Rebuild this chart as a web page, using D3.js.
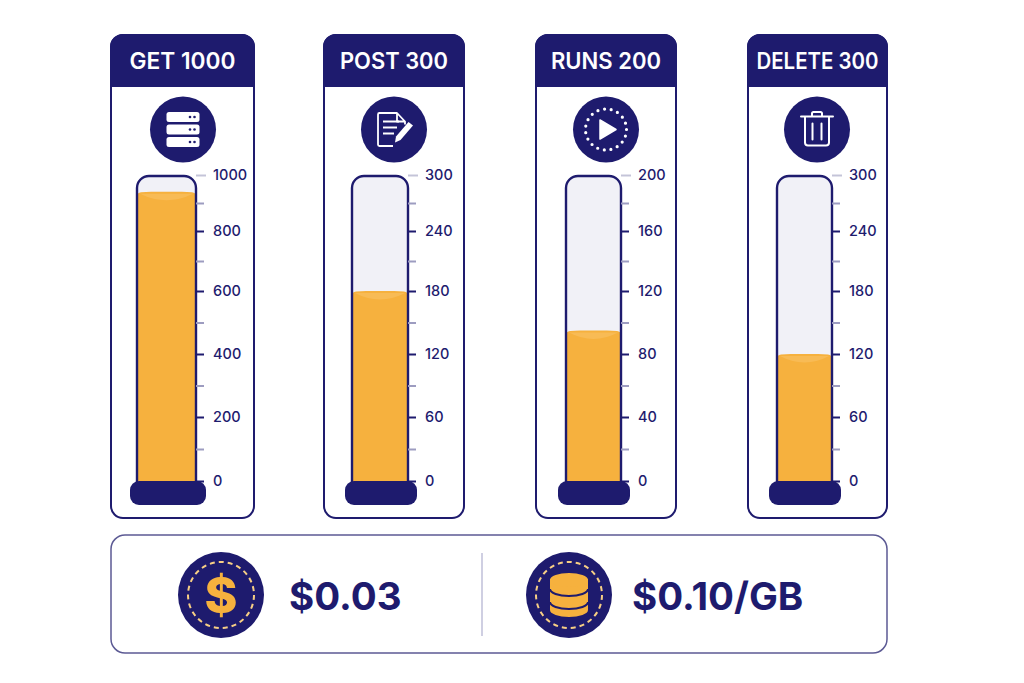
<!DOCTYPE html>
<html>
<head>
<meta charset="utf-8">
<title>Usage gauges</title>
<script src="https://cdn.jsdelivr.net/npm/d3@7"></script>
<style>
    html, body { margin: 0; padding: 0; background: #fff; }
    svg { display: block; }
    text { font-family: Inter, "Open Sans", sans-serif; }
    .axis text { font-size: 14.5px; font-weight: 500; fill: #1e1b6e; }
    .axis line { stroke: #1e1b6e; stroke-width: 2; }
    .minor line { stroke: #9d9cc0; stroke-width: 2; }
</style>
</head>
<body>
<div id="chart"></div>
<script>
// data
var titles = ["GET 1000", "POST 300", "RUNS 200", "DELETE 300"];
var fillValues = [940, 180, 95, 120];
var getTicks = [0, 200, 400, 600, 800, 1000];
var postTicks = [0, 60, 120, 180, 240, 300];
var runsTicks = [0, 40, 80, 120, 160, 200];
var deleteTicks = [0, 60, 120, 180, 240, 300];
var costLabels = ["$0.03", "$0.10/GB"];

// layout
var navy = "#1e1b6e", orange = "#f6b13e", dash = "#f7cf85";
var cardX = [[111, 254], [324, 464], [536, 676], [748, 887]];
var tubeX = [[137, 196], [352, 408], [566, 621], [777, 832]];
var baseX = [[130, 206], [345, 417], [558, 630], [769, 841]];
var iconX = [183, 394, 606, 817];
var titleWidth = [106, 108, 110, 122];
var tickRows = [481, 417, 354, 291, 231, 175];
var allTicks = [getTicks, postTicks, runsTicks, deleteTicks];

var svg = d3.select("#chart").append("svg")
    .attr("width", 1024)
    .attr("height", 683);

var iconDrawers = [
    // server stack
    function(g) {
        [-17.5, -5, 7.5].forEach(function(dy) {
            g.append("rect")
                .attr("x", -16.5).attr("y", dy)
                .attr("width", 33).attr("height", 10)
                .attr("rx", 2.5)
                .attr("fill", "#fff");
            [7, 11.5].forEach(function(dx) {
                g.append("circle")
                    .attr("cx", dx).attr("cy", dy + 5)
                    .attr("r", 1.3)
                    .attr("fill", navy);
            });
        });
    },
    // document and pencil
    function(g) {
        g.append("path")
            .attr("d", "M-1,16.5H-14.5a1.5,1.5 0 0 1 -1.5,-1.5V-15a1.5,1.5 0 0 1 1.5,-1.5H3L11,-8V-5M3,-16.5V-8H11")
            .attr("fill", "none")
            .attr("stroke", "#fff").attr("stroke-width", 1.8)
            .attr("stroke-linejoin", "round");
        [[-11, 5, -8], [-11, 3, -2], [-11, 0, 4]].forEach(function(l) {
            g.append("line")
                .attr("x1", l[0]).attr("x2", l[1])
                .attr("y1", l[2]).attr("y2", l[2])
                .attr("stroke", "#fff").attr("stroke-width", 2);
        });
        g.append("path")
            .attr("d", "M14.5,-7.5L19,-4L6.5,10.5L1,13L2,7Z")
            .attr("fill", "#fff");
    },
    // dotted ring and play triangle
    function(g) {
        g.append("circle")
            .attr("r", 20.5)
            .attr("fill", "none")
            .attr("stroke", "#fff").attr("stroke-width", 3.2)
            .attr("stroke-linecap", "round")
            .attr("stroke-dasharray", "0 6.75");
        g.append("path")
            .attr("d", "M-6,-9.5L10,0L-6,9.5Z")
            .attr("fill", "#fff")
            .attr("stroke", "#fff").attr("stroke-width", 1.5)
            .attr("stroke-linejoin", "round");
    },
    // bin
    function(g) {
        g.append("path")
            .attr("d", "M-16,-13H16M-5,-13V-16a1.5,1.5 0 0 1 1.5,-1.5H3.5a1.5,1.5 0 0 1 1.5,1.5V-13M-12,-12V13a3,3 0 0 0 3,3H9a3,3 0 0 0 3,-3V-12M-4.5,-6V10M4.5,-6V10")
            .attr("fill", "none")
            .attr("stroke", "#fff").attr("stroke-width", 2)
            .attr("stroke-linecap", "round")
            .attr("stroke-linejoin", "round");
    }
];

titles.forEach(function(title, i) {
    drawGauge(i, title, allTicks[i], fillValues[i]);
});
drawCostPanel();

function drawGauge(i, title, ticks, value) {
    var card = svg.append("g");
    var x0 = cardX[i][0], x1 = cardX[i][1];
    var tx0 = tubeX[i][0], tx1 = tubeX[i][1];

    card.append("rect")
        .attr("x", x0).attr("y", 35)
        .attr("width", x1 - x0).attr("height", 483)
        .attr("rx", 12)
        .attr("fill", "#fff")
        .attr("stroke", navy).attr("stroke-width", 2);

    card.append("path")
        .attr("d", "M" + (x0 - 1) + ",87V47a13,13 0 0 1 13,-13H" + (x1 - 12) + "a13,13 0 0 1 13,13V87Z")
        .attr("fill", navy);

    card.append("text")
        .attr("x", (x0 + x1) / 2).attr("y", 69)
        .attr("text-anchor", "middle")
        .attr("textLength", titleWidth[i])
        .attr("lengthAdjust", "spacingAndGlyphs")
        .attr("fill", "#fff")
        .style("font-size", "22.5px")
        .style("font-weight", 600)
        .text(title);

    var icon = card.append("g")
        .attr("transform", "translate(" + iconX[i] + ",129.5)");
    icon.append("circle").attr("r", 33).attr("fill", navy);
    iconDrawers[i](icon);

    // scale goes through every tick row, the printed ticks are not quite evenly spaced
    var y = d3.scaleLinear().domain(ticks).range(tickRows);

    // tube background
    card.append("rect")
        .attr("x", tx0).attr("y", 176)
        .attr("width", tx1 - tx0).attr("height", 320)
        .attr("rx", 12)
        .attr("fill", "#f1f1f7");

    // fill
    var top = y(value);
    card.append("path")
        .attr("d", "M" + tx0 + ",490V" + (top + 4) + "q0,-3 4,-3.5L" + (tx0 + 14) + "," + top + "H" + (tx1 - 14) + "L" + (tx1 - 4) + "," + (top + 0.5) + "q4,.5 4,3.5V490Z")
        .attr("fill", orange);
    // soft lighter meniscus
    card.append("path")
        .attr("d", "M" + (tx0 + 3) + "," + (top + 2) + "H" + (tx1 - 3) + "Q" + ((tx0 + tx1) / 2) + "," + (top + 15) + " " + (tx0 + 3) + "," + (top + 2) + "Z")
        .attr("fill", "#f8bb55");

    // tube outline
    card.append("rect")
        .attr("x", tx0).attr("y", 176)
        .attr("width", tx1 - tx0).attr("height", 320)
        .attr("rx", 12)
        .attr("fill", "none")
        .attr("stroke", navy).attr("stroke-width", 2.4);

    // minor ticks halfway between the labelled ones
    var minorAxis = d3.axisRight(y)
        .tickValues(d3.pairs(ticks).map(function(p) { return (p[0] + p[1]) / 2; }))
        .tickSize(8)
        .tickFormat("");
    card.append("g")
        .attr("class", "minor")
        .attr("transform", "translate(" + tx1 + ",0)")
        .call(minorAxis)
        .call(function(g) { g.select(".domain").remove(); });

    var yAxis = d3.axisRight(y)
        .tickValues(ticks)
        .tickSize(8)
        .tickPadding(9)
        .tickFormat(d3.format("d"));
    var axis = card.append("g")
        .attr("class", "axis")
        .attr("transform", "translate(" + tx1 + ",0)")
        .call(yAxis);
    axis.select(".domain").remove();

    // the top tick is a little longer and pale
    axis.selectAll(".tick")
        .filter(function(d) { return d === ticks[ticks.length - 1]; })
        .select("line")
        .attr("x2", 10)
        .style("stroke", "#c4c4d8");

    // base
    card.append("rect")
        .attr("x", baseX[i][0]).attr("y", 481)
        .attr("width", baseX[i][1] - baseX[i][0]).attr("height", 24)
        .attr("rx", 9)
        .attr("fill", navy);
}

function drawCostPanel() {
    var panel = svg.append("g");

    panel.append("rect")
        .attr("x", 111).attr("y", 535)
        .attr("width", 776).attr("height", 118)
        .attr("rx", 14)
        .attr("fill", "#fff")
        .attr("stroke", "#5c5a94").attr("stroke-width", 1.5);

    panel.append("line")
        .attr("x1", 482).attr("x2", 482)
        .attr("y1", 553).attr("y2", 636)
        .attr("stroke", "#cfcfe2").attr("stroke-width", 2);

    var coinX = [221, 569], labelX = [289, 632];
    coinX.forEach(function(cx, i) {
        panel.append("circle")
            .attr("cx", cx).attr("cy", 595)
            .attr("r", 43)
            .attr("fill", navy);
        panel.append("circle")
            .attr("cx", cx).attr("cy", 595)
            .attr("r", 33)
            .attr("fill", "none")
            .attr("stroke", dash).attr("stroke-width", 2)
            .attr("stroke-dasharray", "5 4");
        panel.append("text")
            .attr("x", labelX[i]).attr("y", 610)
            .attr("fill", navy)
            .style("font-size", "38.5px")
            .style("font-weight", 700)
            .text(costLabels[i]);
    });

    panel.append("text")
        .attr("x", 221).attr("y", 613)
        .attr("text-anchor", "middle")
        .attr("fill", orange)
        .style("font-size", "50px")
        .style("font-weight", 800)
        .text("$");

    // coin stack
    var stack = panel.append("g").attr("transform", "translate(569,0)");
    stack.append("path")
        .attr("d", "M-19,579V610a19,7 0 0 0 38,0V579Z")
        .attr("fill", orange);
    stack.append("ellipse")
        .attr("cy", 580).attr("rx", 19).attr("ry", 7)
        .attr("fill", orange);
    [589, 602].forEach(function(cy) {
        stack.append("path")
            .attr("d", "M-19," + cy + "a19,7 0 0 0 38,0")
            .attr("fill", "none")
            .attr("stroke", navy).attr("stroke-width", 2);
    });
}
</script>
</body>
</html>
